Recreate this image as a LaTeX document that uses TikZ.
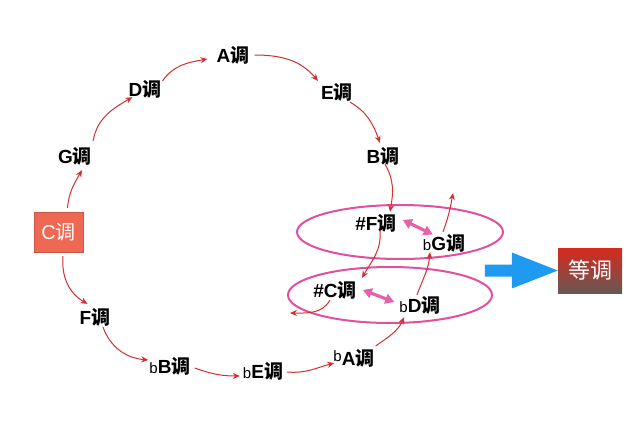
\documentclass[tikz,border=0pt]{standalone}
\usepackage{fontspec}
\setmainfont{Liberation Sans}
\newfontfamily\cjk{Noto Sans CJK SC}
\usetikzlibrary{arrows.meta,shadings}
\newcommand\diao{{\cjk 调}}
\newcommand\fl{{\mdseries\fontsize{15}{15}\selectfont b}}
\definecolor{arrred}{RGB}{208,48,48}
\definecolor{ellpink}{RGB}{224,80,158}
\definecolor{dblpink}{RGB}{230,96,170}
\definecolor{cbox}{RGB}{238,104,84}
\definecolor{arrblue}{RGB}{30,155,240}
\begin{document}
\begin{tikzpicture}[x=1pt,y=1pt,
  lab/.style={font=\fontsize{19}{19}\selectfont\bfseries, inner sep=1pt, text=black},
  ra/.style={draw=arrred, line width=1pt, -{Stealth[length=7pt,width=6pt]}},
  ell/.style={draw=ellpink, line width=2pt},
  dbl/.style={draw=dblpink, line width=3.2pt, {Triangle[length=9pt,width=10pt]}-{Triangle[length=9pt,width=10pt]}}]
\useasboundingbox (0,0) rectangle (640,-426);
% ellipses
\draw[ell] (400,-232) ellipse [x radius=103pt, y radius=27pt];
\draw[ell] (390,-295) ellipse [x radius=102pt, y radius=28pt];
% nodes
\node[fill=cbox, draw=cbox!85!black, line width=0.4pt, minimum width=49pt, minimum height=40pt, inner sep=0pt, text=white, font=\fontsize{20}{20}\selectfont] (C) at (58.5,-232) {C\diao};
\node[lab] (G) at (75,-156) {G\diao};
\node[lab] (D) at (145,-89) {D\diao};
\node[lab] (A) at (233,-55) {A\diao};
\node[lab] (E) at (337,-92) {E\diao};
\node[lab] (B) at (383,-156) {B\diao};
\node[lab] (Fs) at (376,-223) {\#F\diao};
\node[lab] (Gb) at (444,-243) {\fl G\diao};
\node[lab] (Cs) at (335,-290) {\#C\diao};
\node[lab] (Db) at (420,-305) {\fl D\diao};
\node[lab] (F) at (95,-317) {F\diao};
\node[lab] (Bb) at (170,-366) {\fl B\diao};
\node[lab] (Eb) at (263,-371) {\fl E\diao};
\node[lab] (Ab) at (354,-358) {\raisebox{4pt}{\fl}A\diao};
\node[top color={rgb,255:red,214;green,42;blue,30}, bottom color={rgb,255:red,104;green,88;blue,84}, minimum width=64pt, minimum height=45pt, inner sep=0pt, text=white, font=\fontsize{22}{22}\selectfont\cjk] (Deng) at (590,-270.5) {等调};
\coordinate (exitC) at (290,-313);
\coordinate (exitG) at (453,-193);
% red arrows, upper path
\draw[ra] ([xshift=9pt,yshift=4pt]C.north) to[out=85,in=240] ([xshift=7pt,yshift=-4pt]G.south);
\draw[ra] ([yshift=5pt]G.north east) to[out=80,in=210] ([xshift=5pt,yshift=2pt]D.south west);
\draw[ra] ([yshift=-2pt]D.north east) to[out=55,in=190] ([xshift=-8pt,yshift=-4pt]A.west);
\draw[ra] ([xshift=4pt]A.east) to[out=0,in=130] ([xshift=-2pt,yshift=1pt]E.north west);
\draw[ra] ([xshift=13pt]E.south) to[out=-30,in=110] ([xshift=-3pt,yshift=3pt]B.north);
\draw[ra] ([xshift=2pt,yshift=2pt]B.south) to[out=-60,in=80] ([xshift=14pt,yshift=1pt]Fs.north);
\draw[ra] ([xshift=4pt,yshift=3pt]Fs.south) to[out=-85,in=60] ([xshift=27pt,yshift=2pt]Cs.north);
\draw[ra] ([xshift=-5pt]Cs.south) to[out=-120,in=0] (exitC);
\draw[ra] ([yshift=2pt]Ab.north east) to[out=35,in=245] ([xshift=6pt,yshift=-2pt]Db.south west);
\draw[ra] ([xshift=-3pt]Db.north) to[out=70,in=265] ([xshift=-14pt,yshift=1pt]Gb.south);
\draw[ra] ([xshift=-1pt,yshift=1pt]Gb.north) to[out=70,in=260] (exitG);
% red arrows, lower path
\draw[ra] ([xshift=4.5pt,yshift=-4pt]C.south) to[out=-95,in=150] ([xshift=9pt,yshift=3pt]F.north west);
\draw[ra] ([xshift=8pt]F.south) to[out=-70,in=175] ([yshift=6pt]Bb.west);
\draw[ra] ([xshift=3pt,yshift=-2pt]Bb.east) to[out=-20,in=180] ([xshift=-2pt,yshift=-5pt]Eb.west);
\draw[ra] ([xshift=3pt,yshift=-1pt]Eb.east) to[out=-5,in=195] ([xshift=2pt,yshift=-5pt]Ab.west);
% pink double arrows
\draw[dbl] ([xshift=5pt,yshift=3pt]Fs.east) -- ([xshift=11pt,yshift=-1.5pt]Gb.north west);
\draw[dbl] ([xshift=5pt]Cs.east) -- ([xshift=-4pt,yshift=3pt]Db.west);
% blue arrow
\fill[arrblue] (Deng.west) -- ++(-46,18) -- ++(0,-12) -- ++(-27,0) -- ++(0,-12) -- ++(27,0) -- ++(0,-12) -- cycle;
\end{tikzpicture}
\end{document}
